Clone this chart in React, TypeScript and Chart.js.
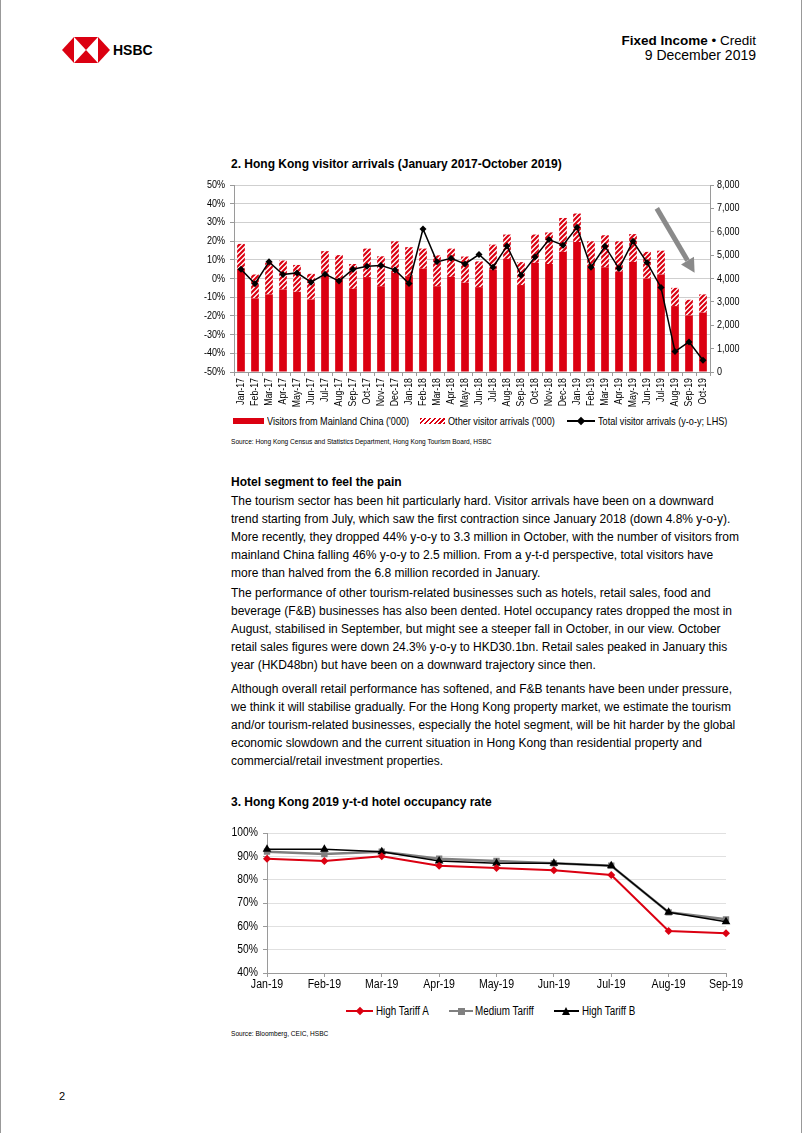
import React, { useEffect, useRef } from "react";
import { Chart, registerables } from "chart.js";

Chart.register(...registerables);

// ---------- Chart 2: Hong Kong visitor arrivals ----------
const months = [
  "Jan-17", "Feb-17", "Mar-17", "Apr-17", "May-17", "Jun-17", "Jul-17", "Aug-17", "Sep-17", "Oct-17", "Nov-17", "Dec-17",
  "Jan-18", "Feb-18", "Mar-18", "Apr-18", "May-18", "Jun-18", "Jul-18", "Aug-18", "Sep-18", "Oct-18", "Nov-18", "Dec-18",
  "Jan-19", "Feb-19", "Mar-19", "Apr-19", "May-19", "Jun-19", "Jul-19", "Aug-19", "Sep-19", "Oct-19",
];
// '000 visitors
const mainlandVisitors = [
  4420, 3150, 3320, 3530, 3430, 3100, 4110, 4000, 3560, 4060, 3670, 4240,
  4100, 4420, 3670, 4070, 3820, 3630, 4380, 4840, 3720, 4670, 4620, 5140,
  5560, 4460, 4480, 4290, 4710, 4000, 4170, 2820, 2420, 2540,
];
const otherVisitors = [
  1060, 1020, 1360, 1240, 1150, 1100, 1060, 1000, 1060, 1220, 1280, 1350,
  1240, 860, 1320, 1210, 1120, 1100, 1070, 1040, 980, 1210, 1350, 1450,
  1220, 1130, 1370, 1300, 1190, 1140, 1020, 780, 670, 780,
];
// y-o-y %
const totalYoY = [
  5.0, -2.8, 8.9, 2.1, 3.0, -2.0, 2.3, -1.4, 5.0, 6.6, 6.9, 4.6,
  -2.7, 26.5, 8.9, 10.8, 7.8, 12.8, 6.0, 17.4, 1.8, 11.5, 20.8, 17.8,
  27.4, 6.0, 17.2, 5.3, 19.9, 8.5, -4.8, -39.1, -33.9, -43.7,
];
const yoyMin = -50;
const yoyMax = 50;
const yoyStep = 10;
const visitorsMax = 8000;
const visitorsStep = 1000;
// trend arrow annotation (category index, '000 visitors)
const arrowStart = [29.7, 7000];
const arrowEnd = [32.4, 4250];

// ---------- Chart 3: hotel occupancy ----------
const hotelMonths = ["Jan-19", "Feb-19", "Mar-19", "Apr-19", "May-19", "Jun-19", "Jul-19", "Aug-19", "Sep-19"];
const highTariffA = [89, 88, 90, 86, 85, 84, 82, 58, 57];
const mediumTariff = [92, 91, 92, 89, 88, 87, 86, 66, 63];
const highTariffB = [93, 93, 92, 88, 87, 87, 86, 66, 62];
const occMin = 40;
const occMax = 100;
const occStep = 10;

const RED = "#DB0011";
const GREY = "#808080";
const AXIS = "#9a9a9a";
const GRID = "#cfcfcf";
const SANS = "'Liberation Sans',Arial,Helvetica,sans-serif";

function makeHatch(): CanvasPattern | string {
  const c = document.createElement("canvas");
  c.width = 5;
  c.height = 5;
  const g = c.getContext("2d");
  if (!g) return RED;
  g.fillStyle = "#ffffff";
  g.fillRect(0, 0, 5, 5);
  g.strokeStyle = RED;
  g.lineWidth = 2.2;
  g.beginPath();
  g.moveTo(-1, 6);
  g.lineTo(6, -1);
  g.moveTo(-1, 1);
  g.lineTo(1, -1);
  g.moveTo(4, 6);
  g.lineTo(6, 4);
  g.stroke();
  return g.createPattern(c, "repeat") || RED;
}

type TickCfg = { size: number; sx: number; pad: number; rotate?: boolean };

// Draws the library-generated tick labels in a condensed (Arial Narrow-like) style.
function narrowTicks(cfg: Record<string, TickCfg>) {
  return {
    id: "narrowTicks",
    afterDraw(chart: any) {
      const ctx = chart.ctx;
      Object.keys(cfg).forEach((id) => {
        const sc = chart.scales[id];
        const c = cfg[id];
        if (!sc) return;
        ctx.save();
        ctx.font = `${c.size}px ${SANS}`;
        ctx.fillStyle = "#000";
        sc.ticks.forEach((t: any, i: number) => {
          const label = Array.isArray(t.label) ? t.label.join(" ") : String(t.label);
          const p = sc.getPixelForTick(i);
          ctx.save();
          if (sc.axis === "x") {
            ctx.translate(p, sc.top + c.pad);
            if (c.rotate) {
              ctx.rotate(-Math.PI / 2);
              ctx.scale(c.sx, 1);
              ctx.textAlign = "right";
              ctx.textBaseline = "middle";
            } else {
              ctx.scale(c.sx, 1);
              ctx.textAlign = "center";
              ctx.textBaseline = "top";
            }
          } else if (sc.position === "left") {
            ctx.translate(sc.right - c.pad, p);
            ctx.scale(c.sx, 1);
            ctx.textAlign = "right";
            ctx.textBaseline = "middle";
          } else {
            ctx.translate(sc.left + c.pad, p);
            ctx.scale(c.sx, 1);
            ctx.textAlign = "left";
            ctx.textBaseline = "middle";
          }
          ctx.fillText(label, 0, 0);
          ctx.restore();
        });
        ctx.restore();
      });
    },
  };
}

const arrowPlugin = {
  id: "trendArrow",
  afterDatasetsDraw(chart: any) {
    const xs = chart.scales.x;
    const ys = chart.scales.y1;
    const x0 = xs.getPixelForValue(arrowStart[0]);
    const y0 = ys.getPixelForValue(arrowStart[1]);
    const x1 = xs.getPixelForValue(arrowEnd[0]);
    const y1 = ys.getPixelForValue(arrowEnd[1]);
    const ang = Math.atan2(y1 - y0, x1 - x0);
    const headLen = 14;
    const headW = 7.5;
    const bx = x1 - headLen * Math.cos(ang);
    const by = y1 - headLen * Math.sin(ang);
    const ctx = chart.ctx;
    ctx.save();
    ctx.strokeStyle = "#8a8a8a";
    ctx.fillStyle = "#8a8a8a";
    ctx.lineWidth = 5;
    ctx.beginPath();
    ctx.moveTo(x0, y0);
    ctx.lineTo(bx, by);
    ctx.stroke();
    ctx.beginPath();
    ctx.moveTo(x1, y1);
    ctx.lineTo(bx - headW * Math.sin(ang), by + headW * Math.cos(ang));
    ctx.lineTo(bx + headW * Math.sin(ang), by - headW * Math.cos(ang));
    ctx.closePath();
    ctx.fill();
    ctx.restore();
  },
};

function VisitorChart() {
  const ref = useRef<HTMLCanvasElement | null>(null);
  useEffect(() => {
    if (!ref.current) return;
    const hatch = makeHatch();
    const chart = new Chart(ref.current, {
      type: "bar",
      data: {
        labels: months,
        datasets: [
          {
            type: "line",
            label: "Total visitor arrivals (y-o-y; LHS)",
            data: totalYoY,
            yAxisID: "y",
            borderColor: "#000",
            backgroundColor: "#000",
            borderWidth: 1.5,
            pointStyle: "rectRot",
            pointRadius: 3.5,
            pointBorderWidth: 0,
            tension: 0,
            order: 0,
          } as any,
          {
            label: "Visitors from Mainland China ('000)",
            data: mainlandVisitors,
            yAxisID: "y1",
            backgroundColor: RED,
            stack: "v",
            order: 1,
            barPercentage: 0.55,
            categoryPercentage: 1,
          },
          {
            label: "Other visitor arrivals ('000)",
            data: otherVisitors,
            yAxisID: "y1",
            backgroundColor: hatch as any,
            stack: "v",
            order: 1,
            barPercentage: 0.55,
            categoryPercentage: 1,
          },
        ],
      },
      options: {
        animation: false,
        responsive: false,
        maintainAspectRatio: false,
        layout: { padding: { top: 10, left: 0, right: 0, bottom: 0 } },
        plugins: { legend: { display: false }, tooltip: { enabled: false } },
        scales: {
          x: {
            stacked: true,
            offset: true,
            grid: { display: true, drawOnChartArea: false, drawTicks: true, tickLength: 4, offset: true, color: AXIS },
            border: { display: true, color: AXIS },
            ticks: { display: false, autoSkip: false },
            afterFit: (s: any) => {
              s.height = 40;
            },
          },
          y: {
            position: "left",
            min: yoyMin,
            max: yoyMax,
            ticks: { display: false, stepSize: yoyStep, callback: (v: any) => v + "%" },
            grid: { color: GRID, tickLength: 4, tickColor: AXIS },
            border: { display: true, color: AXIS },
            afterFit: (s: any) => {
              s.width = 40;
            },
          },
          y1: {
            position: "right",
            stacked: true,
            min: 0,
            max: visitorsMax,
            ticks: {
              display: false,
              stepSize: visitorsStep,
              callback: (v: any) => Number(v).toLocaleString("en-US"),
            },
            grid: { drawOnChartArea: false, tickLength: 4, tickColor: AXIS },
            border: { display: true, color: AXIS },
            afterFit: (s: any) => {
              s.width = 40;
            },
          },
        },
      } as any,
      plugins: [
        arrowPlugin,
        narrowTicks({
          x: { size: 11, sx: 0.8, pad: 6, rotate: true },
          y: { size: 11, sx: 0.82, pad: 9 },
          y1: { size: 11, sx: 0.82, pad: 7 },
        }),
      ],
    });
    return () => chart.destroy();
  }, []);
  return (
    <canvas
      ref={ref}
      width={556}
      height={237}
      style={{ position: "absolute", left: 193, top: 175, width: 556, height: 237 }}
    />
  );
}

function HotelChart() {
  const ref = useRef<HTMLCanvasElement | null>(null);
  useEffect(() => {
    if (!ref.current) return;
    const chart = new Chart(ref.current, {
      type: "line",
      data: {
        labels: hotelMonths,
        datasets: [
          {
            label: "High Tariff A",
            data: highTariffA,
            borderColor: RED,
            backgroundColor: RED,
            borderWidth: 2,
            pointStyle: "rectRot",
            pointRadius: 4,
            pointBorderWidth: 0,
            order: 0,
          },
          {
            label: "Medium Tariff",
            data: mediumTariff,
            borderColor: GREY,
            backgroundColor: GREY,
            borderWidth: 2.5,
            pointStyle: "rect",
            pointRadius: 4.5,
            pointBorderWidth: 0,
            order: 2,
          },
          {
            label: "High Tariff B",
            data: highTariffB,
            borderColor: "#000",
            backgroundColor: "#000",
            borderWidth: 1.5,
            pointStyle: "triangle",
            pointRadius: 5,
            pointBorderWidth: 0,
            order: 1,
          },
        ],
      },
      options: {
        animation: false,
        responsive: false,
        maintainAspectRatio: false,
        layout: { padding: { top: 10, left: 0, right: 22, bottom: 0 } },
        plugins: { legend: { display: false }, tooltip: { enabled: false } },
        scales: {
          x: {
            offset: false,
            grid: { display: true, drawOnChartArea: false, drawTicks: true, tickLength: 4, color: AXIS },
            border: { display: true, color: AXIS },
            ticks: { display: false, autoSkip: false },
            afterFit: (s: any) => {
              s.height = 20;
            },
          },
          y: {
            min: occMin,
            max: occMax,
            ticks: { display: false, stepSize: occStep, callback: (v: any) => v + "%" },
            grid: { color: "#e0e0e0", tickLength: 4, tickColor: AXIS },
            border: { display: true, color: AXIS },
            afterFit: (s: any) => {
              s.width = 45;
            },
          },
        },
      } as any,
      plugins: [
        narrowTicks({
          x: { size: 12, sx: 0.88, pad: 6 },
          y: { size: 12, sx: 0.86, pad: 9 },
        }),
      ],
    });
    return () => chart.destroy();
  }, []);
  return (
    <canvas
      ref={ref}
      width={526}
      height={170}
      style={{ position: "absolute", left: 221, top: 823, width: 526, height: 170 }}
    />
  );
}

function HsbcLogo() {
  return (
    <svg
      width={48}
      height={26}
      viewBox="0 0 100 50"
      preserveAspectRatio="none"
      style={{ position: "absolute", left: 61, top: 37 }}
    >
      <polygon points="0,25 25,0 25,50" fill={RED} />
      <polygon points="100,25 75,0 75,50" fill={RED} />
      <polygon points="25,0 75,0 50,25" fill={RED} />
      <polygon points="25,50 75,50 50,25" fill={RED} />
    </svg>
  );
}

const lineStyle: React.CSSProperties = {
  position: "absolute",
  left: 230,
  whiteSpace: "nowrap",
  fontFamily: SANS,
  fontSize: 12,
  lineHeight: "18px",
  color: "#000",
};

function TextLine({ y, children, bold }: { y: number; children: React.ReactNode; bold?: boolean }) {
  return <div style={{ ...lineStyle, top: y - 9, fontWeight: bold ? "bold" : "normal" }}>{children}</div>;
}

// condensed text, positioned by left edge and vertical centre
function NText({ x, y, size, sx, children }: { x: number; y: number; size: number; sx: number; children: React.ReactNode }) {
  return (
    <div
      style={{
        position: "absolute",
        left: x,
        top: y - 8,
        height: 16,
        lineHeight: "16px",
        fontFamily: SANS,
        fontSize: size,
        whiteSpace: "nowrap",
        transform: `scaleX(${sx})`,
        transformOrigin: "left center",
        color: "#000",
      }}
    >
      {children}
    </div>
  );
}

function LineSwatch({ x, y, x2, color, marker }: { x: number; y: number; x2: number; color: string; marker: "diamond" | "square" | "triangle" }) {
  const w = x2 - x;
  let m: React.ReactNode = null;
  if (marker === "diamond")
    m = (
      <div
        style={{ position: "absolute", left: w / 2 - 3, top: -3, width: 6, height: 6, background: color, transform: "rotate(45deg)" }}
      />
    );
  if (marker === "square") m = <div style={{ position: "absolute", left: w / 2 - 3.5, top: -3.5, width: 7, height: 7, background: color }} />;
  if (marker === "triangle")
    m = (
      <div
        style={{
          position: "absolute",
          left: w / 2 - 4.5,
          top: -4.5,
          width: 0,
          height: 0,
          borderLeft: "4.5px solid transparent",
          borderRight: "4.5px solid transparent",
          borderBottom: `8px solid ${color}`,
        }}
      />
    );
  return (
    <div style={{ position: "absolute", left: x, top: y, width: w, height: 0 }}>
      <div style={{ position: "absolute", left: 0, top: -1, width: w, height: 2, background: color }} />
      {m}
    </div>
  );
}

const para1 = [
  "The tourism sector has been hit particularly hard. Visitor arrivals have been on a downward",
  "trend starting from July, which saw the first contraction since January 2018 (down 4.8% y-o-y).",
  "More recently, they dropped 44% y-o-y to 3.3 million in October, with the number of visitors from",
  "mainland China falling 46% y-o-y to 2.5 million. From a y-t-d perspective, total visitors have",
  "more than halved from the 6.8 million recorded in January.",
];
const para2 = [
  "The performance of other tourism-related businesses such as hotels, retail sales, food and",
  "beverage (F&B) businesses has also been dented. Hotel occupancy rates dropped the most in",
  "August, stabilised in September, but might see a steeper fall in October, in our view. October",
  "retail sales figures were down 24.3% y-o-y to HKD30.1bn. Retail sales peaked in January this",
  "year (HKD48bn) but have been on a downward trajectory since then.",
];
const para3 = [
  "Although overall retail performance has softened, and F&B tenants have been under pressure,",
  "we think it will stabilise gradually. For the Hong Kong property market, we estimate the tourism",
  "and/or tourism-related businesses, especially the hotel segment, will be hit harder by the global",
  "economic slowdown and the current situation in Hong Kong than residential property and",
  "commercial/retail investment properties.",
];

export default function App() {
  useEffect(() => {
    document.body.style.margin = "0";
  }, []);
  return (
    <div
      style={{
        position: "relative",
        width: 802,
        height: 1133,
        background: "#fff",
        boxSizing: "border-box",
        borderLeft: "1px solid #999",
        borderRight: "1px solid #999",
        overflow: "hidden",
        fontFamily: SANS,
      }}
    >
      {/* Header */}
      <HsbcLogo />
      <div style={{ position: "absolute", left: 112, top: 41, fontFamily: SANS, fontWeight: "bold", fontSize: 14, lineHeight: "18px" }}>
        HSBC
      </div>
      <div style={{ position: "absolute", right: 45, top: 33, textAlign: "right", fontFamily: SANS, fontSize: 13.5, lineHeight: "15px" }}>
        <div>
          <b>Fixed Income</b> • Credit
        </div>
        <div style={{ fontSize: 14 }}>9 December 2019</div>
      </div>

      {/* Chart 2 */}
      <div style={{ ...lineStyle, top: 155, fontWeight: "bold" }}>2. Hong Kong visitor arrivals (January 2017-October 2019)</div>
      <VisitorChart />
      <div style={{ position: "absolute", left: 232, top: 418, width: 31, height: 6, background: RED }} />
      <NText x={266} y={421} size={11} sx={0.83}>
        Visitors from Mainland China ('000)
      </NText>
      <div
        style={{
          position: "absolute",
          left: 419,
          top: 418,
          width: 25,
          height: 6,
          background: `repeating-linear-gradient(-45deg, ${RED} 0px, ${RED} 1.6px, #fff 1.6px, #fff 3.4px)`,
        }}
      />
      <NText x={447} y={421} size={11} sx={0.83}>
        Other visitor arrivals ('000)
      </NText>
      <LineSwatch x={566} x2={594} y={421} color="#000" marker="diamond" />
      <NText x={597} y={421} size={11} sx={0.83}>
        Total visitor arrivals (y-o-y; LHS)
      </NText>
      <NText x={230} y={442} size={8} sx={0.82}>
        Source: Hong Kong Census and Statistics Department, Hong Kong Tourism Board, HSBC
      </NText>

      {/* Text */}
      <TextLine y={482} bold>
        Hotel segment to feel the pain
      </TextLine>
      {para1.map((t, i) => (
        <TextLine key={"a" + i} y={501 + i * 18}>
          {t}
        </TextLine>
      ))}
      {para2.map((t, i) => (
        <TextLine key={"b" + i} y={593 + i * 18}>
          {t}
        </TextLine>
      ))}
      {para3.map((t, i) => (
        <TextLine key={"c" + i} y={689 + i * 18}>
          {t}
        </TextLine>
      ))}

      {/* Chart 3 */}
      <div style={{ ...lineStyle, top: 793, fontWeight: "bold" }}>3. Hong Kong 2019 y-t-d hotel occupancy rate</div>
      <HotelChart />
      <LineSwatch x={345} x2={372} y={1011} color={RED} marker="diamond" />
      <NText x={375} y={1011} size={12} sx={0.82}>
        High Tariff A
      </NText>
      <LineSwatch x={448} x2={472} y={1011} color={GREY} marker="square" />
      <NText x={474} y={1011} size={12} sx={0.82}>
        Medium Tariff
      </NText>
      <LineSwatch x={553} x2={578} y={1011} color="#000" marker="triangle" />
      <NText x={581} y={1011} size={12} sx={0.82}>
        High Tariff B
      </NText>
      <NText x={230} y={1034} size={8} sx={0.82}>
        Source: Bloomberg, CEIC, HSBC
      </NText>

      <div style={{ position: "absolute", left: 58, top: 1090, fontFamily: SANS, fontSize: 11 }}>2</div>
    </div>
  );
}
